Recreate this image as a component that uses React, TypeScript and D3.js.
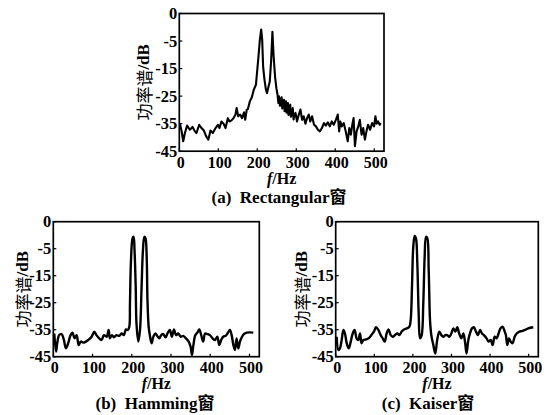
import React from "react";
import * as d3 from "d3";

// ---------- data ----------
const xTicks = [0, 100, 200, 300, 400, 500];
const yTickValues = [-45, -35, -25, -15, -5, 5];
const yTickLabels = ["-45", "-35", "-25", "-15", "-5", "0"];
const yAxisLabel = "功率谱/dB";
const titles = ["(a)  Rectangular窗", "(b)  Hamming窗", "(c)  Kaiser窗"];

const rectangular: [number, number][] = [
  [1.7, -35], [6, -37.8], [10, -41.4], [14.4, -38.4], [20, -35.7], [27, -37.2], [34, -36.2],
  [40, -37.8], [44, -38.4], [51, -35.4], [57, -36.6], [63, -37.5], [69, -39.6], [74.5, -40.8],
  [80, -37.5], [86, -38.4], [93, -36.6], [99, -35.4], [103, -36.6], [108, -34.2], [113.5, -35],
  [118.6, -36.6], [124.5, -33], [128.7, -34.2], [134, -33.8], [139, -33], [144, -31.7],
  [147, -29.3], [151, -32.3], [156, -31.7], [161, -33], [166, -30.9], [169, -33.6], [173, -29.9],
  [176, -29.7], [181, -26.9], [186, -25.4], [191, -22.7], [196.5, -20.9], [200, -15.5],
  [203, -10.7], [206.6, -4.6], [210, -0.8], [212.6, -4.6], [215, -14.3], [218.5, -19.1],
  [222, -22.5], [225, -23.9], [228.6, -21.7], [232, -19.7], [235.4, -12.5], [238.8, -1.6],
  [242, -10.7], [245.6, -17.9], [249, -22.1], [252, -24.5], [254, -27.5], [255.7, -25.1],
  [258, -28.5], [260, -26.3], [262.5, -25.4], [264, -29.5], [266, -27.5], [268.5, -26.3],
  [270, -30.5], [271, -28.7], [273.5, -26.9], [275, -31], [276, -29.9], [278.6, -27.5],
  [280, -31.8], [281, -30.5], [284.5, -28.1], [286, -32.5], [288, -31.7], [291, -29.3],
  [293, -33.5], [294.7, -32.3], [298, -31.1], [302, -34.2], [306.5, -31.7], [310.7, -29.9],
  [315, -33.6], [319, -32.3], [323.5, -35], [327.7, -33], [332, -31.7], [336, -34.2],
  [340.5, -32.3], [345.5, -35.4], [350.5, -36], [355.6, -37.2], [360.7, -37.8], [365.8, -36.6],
  [371, -34.8], [376, -35.7], [381, -34.5], [386, -36], [391, -34.2], [396, -35.4],
  [401.5, -33.6], [406.5, -31.7], [410, -37.8], [413, -34.2], [416.6, -36], [421.7, -34.8],
  [426.8, -37.8], [432, -41.4], [436, -36.6], [440, -39], [443.7, -35.4], [447, -33],
  [450.5, -43.2], [454.7, -37.8], [459, -36], [463, -33.6], [467.5, -39], [471.7, -36.6],
  [476, -40.8], [480, -37.8], [484, -35.4], [489.5, -37.2], [494.5, -34.8], [499.6, -36],
  [503, -32.3], [506, -35], [509.8, -34.2], [514, -35.4], [516.6, -34.8],
];

const hamming: [number, number][] = [
  [2.5, -36.4], [7, -43.1], [10, -40], [15, -37], [21, -36.6], [27, -38.8], [32, -41.9],
  [38, -40], [44, -37], [49, -36.1], [54, -38.2], [59.5, -37], [64.6, -40.7], [70, -39.4],
  [76.5, -39.8], [83, -39.4], [89, -38.8], [97.7, -37.6], [104.5, -35.7], [110, -37],
  [117, -38.2], [123, -38.8], [129, -37], [136, -37.6], [141, -35.1], [144.4, -38.2],
  [149.5, -37], [154.6, -37.8], [161, -37], [168, -37.3], [174, -36.4], [180, -37],
  [185, -34.9], [190, -35.1], [193.7, -33.9], [195.4, -25.2], [198, -9.2], [202, -1.2],
  [204.7, -0.6], [207, -5.5], [210, -19.1], [212, -32.7], [216.6, -39.4], [221, -35.1],
  [225, -19.1], [228.5, -5.5], [232, -0.6], [235, -1.2], [238, -8], [240, -24], [243, -33.9],
  [246, -37], [250.6, -40], [255, -37.6], [260, -36.4], [265, -37.3], [270, -38.2], [275, -37],
  [280, -36.6], [286, -37.8], [291, -36.4], [297, -35.1], [302, -37.6], [307.5, -34.9],
  [312.6, -37], [318.5, -36.4], [324.5, -37.6], [331, -37.3], [338, -38.2], [345, -39.4],
  [350, -41.3], [353.4, -44.4], [357, -40.7], [362, -37], [367, -36.1], [372, -34.9],
  [377, -37], [382, -39.4], [387, -36.4], [392.5, -36.6], [399, -37], [406, -38.2],
  [412, -38.8], [418, -37.6], [423, -40.7], [428, -38.8], [433, -37.6], [439, -37.3],
  [445, -36.1], [450, -35.1], [454.5, -37], [459, -40.7], [463, -42.5], [467, -38.2],
  [471.5, -41.9], [475.7, -39.4], [481, -37.6], [486, -36.6], [493, -36.1], [501, -36],
  [509.7, -36.1],
];

const kaiser: [number, number][] = [
  [2.6, -37.6], [7, -42.5], [11, -41.9], [15.5, -38.8], [20, -35.1], [24, -36.4], [28.5, -40],
  [33.7, -41.9], [39, -39.4], [44, -36.4], [49, -35.1], [54, -38.2], [58.7, -38.8], [63, -36.4],
  [67, -40], [71.7, -38.8], [78.6, -38.6], [85.5, -38.2], [92.4, -37], [99, -35.7],
  [104.5, -34.1], [110.5, -35.1], [116.6, -37], [121.8, -38.2], [127, -39.4], [132, -36.4],
  [137, -34.9], [142.5, -37], [147.7, -37.6], [153.7, -37], [159.7, -36.4], [165, -37],
  [171, -35.7], [177, -34.9], [184, -34.5], [190.8, -33.9], [194.3, -31.4], [197.7, -19.1],
  [201, -4.3], [204.6, -0.3], [208, -1.2], [211.5, -10.4], [215, -29], [218.5, -38.2],
  [222.8, -37], [227, -25.2], [230.5, -8], [234, -0.6], [237.5, -1.2], [241, -12.9],
  [244.4, -31.4], [247.8, -37], [253, -40.7], [258, -43.8], [263, -38.8], [268.6, -35.7],
  [273.7, -37], [279, -37.6], [284, -37], [289, -37], [294.4, -37.6], [299.6, -36.4],
  [304.8, -34.5], [310, -35.7], [315, -34.1], [320, -36.4], [325.5, -38.2], [330.7, -36.4],
  [335, -39.4], [339, -43.8], [343.7, -38.8], [348, -36.4], [353, -34.5], [358, -34.1],
  [363.5, -35.7], [368.7, -37], [374, -35.1], [379, -36.4], [384, -37], [391, -38.2],
  [396, -39.4], [401.5, -38.8], [406.7, -40.7], [412, -37.6], [417, -38.2], [422, -36.4],
  [427, -34.5], [432.6, -33.9], [438, -35.7], [441, -37], [444.7, -40.7], [449, -38.2],
  [453.4, -39.4], [458.5, -40], [463.7, -37.6], [469, -36.4], [476, -35.7], [482.7, -35.5],
  [490.5, -35.1], [499, -34.5], [512, -34.1],
];

const xDomain: [number, number] = [0, 525];
const yDomain: [number, number] = [-45, 5];

const SERIF = "'Liberation Serif', 'Times New Roman', 'Noto Sans CJK SC', serif";

type PanelProps = {
  id: string;
  left: number;
  right: number;
  top: number;
  bottom: number;
  data: [number, number][];
  smooth: boolean;
  title: string;
  titleX: number;
  ylabelX: number;
};

function Panel({ id, left, right, top, bottom, data, smooth, title, titleX, ylabelX }: PanelProps) {
  const x = d3.scaleLinear().domain(xDomain).range([left, right]);
  const y = d3.scaleLinear().domain(yDomain).range([bottom, top]);
  const line = d3
    .line<[number, number]>()
    .x((d) => x(d[0]))
    .y((d) => y(d[1]))
    .curve(smooth ? d3.curveCatmullRom.alpha(0.5) : d3.curveLinear);
  const cx = (left + right) / 2;
  const cy = (top + bottom) / 2;
  return (
    <g>
      <defs>
        <clipPath id={id}>
          <rect x={left} y={top} width={right - left} height={bottom - top} />
        </clipPath>
      </defs>
      <path
        d={line(data) || ""}
        fill="none"
        stroke="#000"
        strokeWidth={smooth ? 2.4 : 2.1}
        strokeLinejoin="round"
        clipPath={`url(#${id})`}
      />
      <rect x={left} y={top} width={right - left} height={bottom - top} fill="none" stroke="#000" strokeWidth={1.7} />
      {yTickValues.map((v, i) => (
        <g key={"y" + v}>
          <line x1={left} x2={left + 3} y1={y(v)} y2={y(v)} stroke="#000" strokeWidth={1.2} />
          <text
            x={left - 2}
            y={y(v) + 5.5}
            textAnchor="end"
            fontFamily={SERIF}
            fontWeight="bold"
            fontSize={16.5}
          >
            {yTickLabels[i]}
          </text>
        </g>
      ))}
      {xTicks.map((v) => (
        <g key={"x" + v}>
          <line x1={x(v)} x2={x(v)} y1={bottom} y2={bottom - 3} stroke="#000" strokeWidth={1.2} />
          <text x={x(v) + 1.5} y={bottom + 16.5} textAnchor="middle" fontFamily={SERIF} fontWeight="bold" fontSize={16}>
            {v}
          </text>
        </g>
      ))}
      <text x={cx} y={bottom + 32.5} textAnchor="middle" fontFamily={SERIF} fontWeight="bold" fontSize={16}>
        <tspan fontStyle="italic">f</tspan>/Hz
      </text>
      <text x={titleX} y={bottom + 52} textAnchor="middle" fontFamily={SERIF} fontWeight="bold" fontSize={17} xmlSpace="preserve">
        {title}
      </text>
      <text
        transform={`translate(${ylabelX},${cy}) rotate(-90)`}
        textAnchor="middle"
        dominantBaseline="central"
        fontFamily={SERIF}
        fontSize={17}
      >
        <tspan fontFamily="'Noto Sans CJK SC', sans-serif" fontWeight="normal">
          {yAxisLabel.slice(0, 3)}
        </tspan>
        <tspan fontWeight="bold">{yAxisLabel.slice(3)}</tspan>
      </text>
    </g>
  );
}

export default function App() {
  return (
    <svg
      width={548}
      height={415}
      viewBox="0 0 548 415"
      style={{ position: "absolute", left: 0, top: 0, background: "#fff" }}
    >
      <rect x={0} y={0} width={548} height={415} fill="#fff" />
      <Panel id="cpA" left={179.3} right={384} top={13.5} bottom={151.2} data={rectangular} smooth={false}
        title={titles[0]} titleX={279} ylabelX={143} />
      <Panel id="cpB" left={53.3} right={259.3} top={221.7} bottom={356.7} data={hamming} smooth={true}
        title={titles[1]} titleX={155} ylabelX={22} />
      <Panel id="cpC" left={335.7} right={538.3} top={221.7} bottom={356.7} data={kaiser} smooth={true}
        title={titles[2]} titleX={428} ylabelX={301} />
    </svg>
  );
}
